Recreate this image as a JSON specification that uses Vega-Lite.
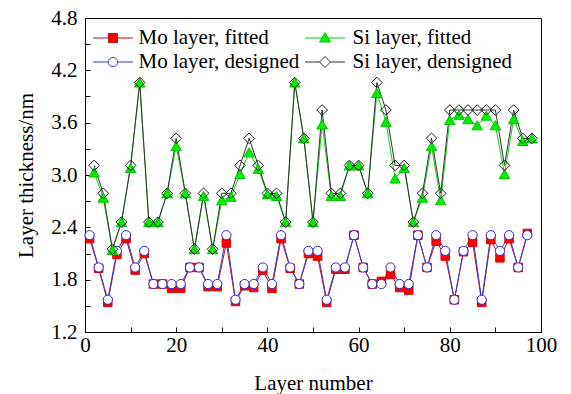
{
  "$schema": "https://vega.github.io/schema/vega-lite/v6.json",
  "width": 456,
  "height": 314,
  "autosize": {"type": "none"},
  "padding": {"left": 85, "top": 18, "right": 30, "bottom": 62},
  "background": "white",
  "config": {
    "view": {"stroke": "black", "strokeWidth": 1},
    "font": "Liberation Serif",
    "axis": {
      "domainColor": "black", "tickColor": "black", "labelColor": "black", "titleColor": "black",
      "labelFont": "Liberation Serif", "titleFont": "Liberation Serif",
      "labelFontSize": 21, "titleFontSize": 21, "titleFontWeight": "normal",
      "grid": false, "tickSize": -5, "labelFlush": false, "labelOverlap": false
    },
    "legend": {
      "orient": "none", "title": null, "padding": 0, "labelLimit": 400,
      "symbolSize": 400, "symbolStrokeWidth": 1, "symbolOpacity": 1,
      "labelFont": "Liberation Serif", "labelFontSize": 21, "labelColor": "black"
    }
  },
  "datasets": {
    "pts": [
      {"n":1,"s":"MoF","t":2.27},{"n":3,"s":"MoF","t":1.93},{"n":5,"s":"MoF","t":1.54},{"n":7,"s":"MoF","t":2.09},{"n":9,"s":"MoF","t":2.27},{"n":11,"s":"MoF","t":1.91},{"n":13,"s":"MoF","t":2.10},{"n":15,"s":"MoF","t":1.75},{"n":17,"s":"MoF","t":1.75},{"n":19,"s":"MoF","t":1.70},{"n":21,"s":"MoF","t":1.70},{"n":23,"s":"MoF","t":1.94},{"n":25,"s":"MoF","t":1.94},{"n":27,"s":"MoF","t":1.72},{"n":29,"s":"MoF","t":1.72},{"n":31,"s":"MoF","t":2.22},{"n":33,"s":"MoF","t":1.55},{"n":35,"s":"MoF","t":1.73},{"n":37,"s":"MoF","t":1.71},{"n":39,"s":"MoF","t":1.91},{"n":41,"s":"MoF","t":1.70},{"n":43,"s":"MoF","t":2.27},{"n":45,"s":"MoF","t":1.93},{"n":47,"s":"MoF","t":1.75},{"n":49,"s":"MoF","t":2.10},{"n":51,"s":"MoF","t":2.07},{"n":53,"s":"MoF","t":1.54},{"n":55,"s":"MoF","t":1.92},{"n":57,"s":"MoF","t":1.92},{"n":59,"s":"MoF","t":2.31},{"n":61,"s":"MoF","t":1.94},{"n":63,"s":"MoF","t":1.75},{"n":65,"s":"MoF","t":1.78},{"n":67,"s":"MoF","t":1.86},{"n":69,"s":"MoF","t":1.71},{"n":71,"s":"MoF","t":1.68},{"n":73,"s":"MoF","t":2.31},{"n":75,"s":"MoF","t":1.94},{"n":77,"s":"MoF","t":2.24},{"n":79,"s":"MoF","t":2.07},{"n":81,"s":"MoF","t":1.57},{"n":83,"s":"MoF","t":2.12},{"n":85,"s":"MoF","t":2.23},{"n":87,"s":"MoF","t":1.54},{"n":89,"s":"MoF","t":2.26},{"n":91,"s":"MoF","t":2.05},{"n":93,"s":"MoF","t":2.27},{"n":95,"s":"MoF","t":1.94},{"n":97,"s":"MoF","t":2.33},
      {"n":1,"s":"MoD","t":2.31},{"n":3,"s":"MoD","t":1.94},{"n":5,"s":"MoD","t":1.57},{"n":7,"s":"MoD","t":2.13},{"n":9,"s":"MoD","t":2.31},{"n":11,"s":"MoD","t":1.94},{"n":13,"s":"MoD","t":2.13},{"n":15,"s":"MoD","t":1.75},{"n":17,"s":"MoD","t":1.75},{"n":19,"s":"MoD","t":1.75},{"n":21,"s":"MoD","t":1.75},{"n":23,"s":"MoD","t":1.94},{"n":25,"s":"MoD","t":1.94},{"n":27,"s":"MoD","t":1.75},{"n":29,"s":"MoD","t":1.75},{"n":31,"s":"MoD","t":2.31},{"n":33,"s":"MoD","t":1.57},{"n":35,"s":"MoD","t":1.75},{"n":37,"s":"MoD","t":1.75},{"n":39,"s":"MoD","t":1.94},{"n":41,"s":"MoD","t":1.75},{"n":43,"s":"MoD","t":2.31},{"n":45,"s":"MoD","t":1.94},{"n":47,"s":"MoD","t":1.75},{"n":49,"s":"MoD","t":2.13},{"n":51,"s":"MoD","t":2.13},{"n":53,"s":"MoD","t":1.57},{"n":55,"s":"MoD","t":1.94},{"n":57,"s":"MoD","t":1.94},{"n":59,"s":"MoD","t":2.31},{"n":61,"s":"MoD","t":1.94},{"n":63,"s":"MoD","t":1.75},{"n":65,"s":"MoD","t":1.75},{"n":67,"s":"MoD","t":1.94},{"n":69,"s":"MoD","t":1.75},{"n":71,"s":"MoD","t":1.75},{"n":73,"s":"MoD","t":2.31},{"n":75,"s":"MoD","t":1.94},{"n":77,"s":"MoD","t":2.31},{"n":79,"s":"MoD","t":2.13},{"n":81,"s":"MoD","t":1.57},{"n":83,"s":"MoD","t":2.13},{"n":85,"s":"MoD","t":2.31},{"n":87,"s":"MoD","t":1.57},{"n":89,"s":"MoD","t":2.31},{"n":91,"s":"MoD","t":2.13},{"n":93,"s":"MoD","t":2.31},{"n":95,"s":"MoD","t":1.94},{"n":97,"s":"MoD","t":2.31},
      {"n":2,"s":"SiF","t":3.03},{"n":4,"s":"SiF","t":2.74},{"n":6,"s":"SiF","t":2.14},{"n":8,"s":"SiF","t":2.46},{"n":10,"s":"SiF","t":3.08},{"n":12,"s":"SiF","t":4.06},{"n":14,"s":"SiF","t":2.46},{"n":16,"s":"SiF","t":2.46},{"n":18,"s":"SiF","t":2.79},{"n":20,"s":"SiF","t":3.33},{"n":22,"s":"SiF","t":2.79},{"n":24,"s":"SiF","t":2.15},{"n":26,"s":"SiF","t":2.76},{"n":28,"s":"SiF","t":2.15},{"n":30,"s":"SiF","t":2.71},{"n":32,"s":"SiF","t":2.75},{"n":34,"s":"SiF","t":3.01},{"n":36,"s":"SiF","t":3.26},{"n":38,"s":"SiF","t":3.07},{"n":40,"s":"SiF","t":2.78},{"n":42,"s":"SiF","t":2.76},{"n":44,"s":"SiF","t":2.46},{"n":46,"s":"SiF","t":4.06},{"n":48,"s":"SiF","t":3.42},{"n":50,"s":"SiF","t":2.46},{"n":52,"s":"SiF","t":3.58},{"n":54,"s":"SiF","t":2.76},{"n":56,"s":"SiF","t":2.76},{"n":58,"s":"SiF","t":3.11},{"n":60,"s":"SiF","t":3.11},{"n":62,"s":"SiF","t":2.79},{"n":64,"s":"SiF","t":3.94},{"n":66,"s":"SiF","t":3.61},{"n":68,"s":"SiF","t":2.96},{"n":70,"s":"SiF","t":3.08},{"n":72,"s":"SiF","t":2.46},{"n":74,"s":"SiF","t":2.74},{"n":76,"s":"SiF","t":3.33},{"n":78,"s":"SiF","t":2.71},{"n":80,"s":"SiF","t":3.63},{"n":82,"s":"SiF","t":3.69},{"n":84,"s":"SiF","t":3.64},{"n":86,"s":"SiF","t":3.57},{"n":88,"s":"SiF","t":3.68},{"n":90,"s":"SiF","t":3.57},{"n":92,"s":"SiF","t":3.01},{"n":94,"s":"SiF","t":3.64},{"n":96,"s":"SiF","t":3.39},{"n":98,"s":"SiF","t":3.42},
      {"n":2,"s":"SiD","t":3.11},{"n":4,"s":"SiD","t":2.79},{"n":6,"s":"SiD","t":2.15},{"n":8,"s":"SiD","t":2.46},{"n":10,"s":"SiD","t":3.11},{"n":12,"s":"SiD","t":4.06},{"n":14,"s":"SiD","t":2.46},{"n":16,"s":"SiD","t":2.46},{"n":18,"s":"SiD","t":2.79},{"n":20,"s":"SiD","t":3.42},{"n":22,"s":"SiD","t":2.79},{"n":24,"s":"SiD","t":2.15},{"n":26,"s":"SiD","t":2.79},{"n":28,"s":"SiD","t":2.15},{"n":30,"s":"SiD","t":2.79},{"n":32,"s":"SiD","t":2.79},{"n":34,"s":"SiD","t":3.11},{"n":36,"s":"SiD","t":3.42},{"n":38,"s":"SiD","t":3.11},{"n":40,"s":"SiD","t":2.79},{"n":42,"s":"SiD","t":2.79},{"n":44,"s":"SiD","t":2.46},{"n":46,"s":"SiD","t":4.06},{"n":48,"s":"SiD","t":3.42},{"n":50,"s":"SiD","t":2.46},{"n":52,"s":"SiD","t":3.745},{"n":54,"s":"SiD","t":2.79},{"n":56,"s":"SiD","t":2.79},{"n":58,"s":"SiD","t":3.11},{"n":60,"s":"SiD","t":3.11},{"n":62,"s":"SiD","t":2.79},{"n":64,"s":"SiD","t":4.06},{"n":66,"s":"SiD","t":3.745},{"n":68,"s":"SiD","t":3.11},{"n":70,"s":"SiD","t":3.11},{"n":72,"s":"SiD","t":2.46},{"n":74,"s":"SiD","t":2.79},{"n":76,"s":"SiD","t":3.42},{"n":78,"s":"SiD","t":2.79},{"n":80,"s":"SiD","t":3.745},{"n":82,"s":"SiD","t":3.745},{"n":84,"s":"SiD","t":3.745},{"n":86,"s":"SiD","t":3.745},{"n":88,"s":"SiD","t":3.745},{"n":90,"s":"SiD","t":3.745},{"n":92,"s":"SiD","t":3.11},{"n":94,"s":"SiD","t":3.745},{"n":96,"s":"SiD","t":3.42},{"n":98,"s":"SiD","t":3.42}
    ]
  },
  "data": {"name": "pts"},
  "encoding": {
    "x": {
      "field": "n", "type": "quantitative",
      "scale": {"domain": [0, 100], "nice": false},
      "axis": {
        "title": "Layer number",
        "values": [0, 10, 20, 30, 40, 50, 60, 70, 80, 90, 100],
        "labelExpr": "datum.value % 20 == 0 ? datum.label : ''",
        "labelPadding": 7, "titlePadding": 17
      }
    },
    "y": {
      "field": "t", "type": "quantitative",
      "scale": {"domain": [1.2, 4.8], "nice": false, "zero": false},
      "axis": {
        "title": "Layer thickness/nm",
        "values": [1.2, 1.5, 1.8, 2.1, 2.4, 2.7, 3.0, 3.3, 3.6, 3.9, 4.2, 4.5, 4.8],
        "labelExpr": "round(datum.value * 10) % 6 == 0 ? format(datum.value, '.1f') : ''",
        "labelPadding": 13, "titlePadding": 14
      }
    }
  },
  "layer": [
    {"transform": [{"filter": "datum.s == 'MoF'"}], "mark": {"type": "line", "stroke": "#b81010", "strokeWidth": 1}, "encoding": {}},
    {"transform": [{"filter": "datum.s == 'MoD'"}], "mark": {"type": "line", "stroke": "#3a3acc", "strokeWidth": 1}, "encoding": {}},
    {"transform": [{"filter": "datum.s == 'SiF'"}], "mark": {"type": "line", "stroke": "#10d010", "strokeWidth": 1}, "encoding": {}},
    {"transform": [{"filter": "datum.s == 'SiD'"}], "mark": {"type": "line", "stroke": "#303030", "strokeWidth": 1}, "encoding": {}},
    {
      "transform": [{"filter": "datum.s == 'MoF'"}],
      "mark": {"type": "point", "shape": "square", "filled": true, "size": 72, "stroke": "#e00000", "strokeWidth": 1, "opacity": 1},
      "encoding": {
        "fill": {"datum": "Mo layer, fitted", "type": "nominal", "scale": {"range": ["#ff0000"]},
          "legend": {"legendX": 17.5, "legendY": 9.5, "labelOffset": 15, "symbolStrokeColor": "#c01010",
            "symbolType": "M-2,0H-0.45M0.45,0H2M-0.45,-0.45H0.45V0.45H-0.45Z"}}
      }
    },
    {
      "transform": [{"filter": "datum.s == 'MoD'"}],
      "mark": {"type": "point", "shape": "circle", "filled": true, "size": 85, "stroke": "#2a2ad8", "strokeWidth": 1, "opacity": 1},
      "encoding": {
        "fill": {"datum": "Mo layer, designed", "type": "nominal", "scale": {"range": ["#ffffff"]},
          "legend": {"legendX": 17.5, "legendY": 33.5, "labelOffset": 15, "symbolStrokeColor": "#3a3acc",
            "symbolType": "M-2,0H-0.47M0.47,0H2M0.47,0A0.47,0.47,0,1,1,-0.47,0A0.47,0.47,0,1,1,0.47,0Z"}}
      }
    },
    {
      "transform": [{"filter": "datum.s == 'SiF'"}],
      "mark": {"type": "point", "shape": "triangle-up", "filled": true, "size": 110, "stroke": "#00c000", "strokeWidth": 1, "opacity": 1},
      "encoding": {
        "fill": {"datum": "Si layer, fitted", "type": "nominal", "scale": {"range": ["#00f000"]},
          "legend": {"legendX": 229.5, "legendY": 9.5, "labelOffset": 17, "symbolStrokeColor": "#10c010",
            "symbolType": "M-2,0H-0.35M0.35,0H2M0,-0.55L0.55,0.4L-0.55,0.4Z"}}
      }
    },
    {
      "transform": [{"filter": "datum.s == 'SiD'"}],
      "mark": {"type": "point", "shape": "diamond", "filled": true, "size": 115, "stroke": "#202020", "strokeWidth": 1, "opacity": 1},
      "encoding": {
        "fill": {"datum": "Si layer, densigned", "type": "nominal", "scale": {"range": ["transparent"]},
          "legend": {"legendX": 229.5, "legendY": 33.5, "labelOffset": 17, "symbolStrokeColor": "#303030",
            "symbolType": "M-2,0H-0.55M0.55,0H2M0,-0.55L0.55,0L0,0.55L-0.55,0Z"}}
      }
    }
  ],
  "resolve": {"scale": {"fill": "independent"}, "legend": {"fill": "independent"}}
}
